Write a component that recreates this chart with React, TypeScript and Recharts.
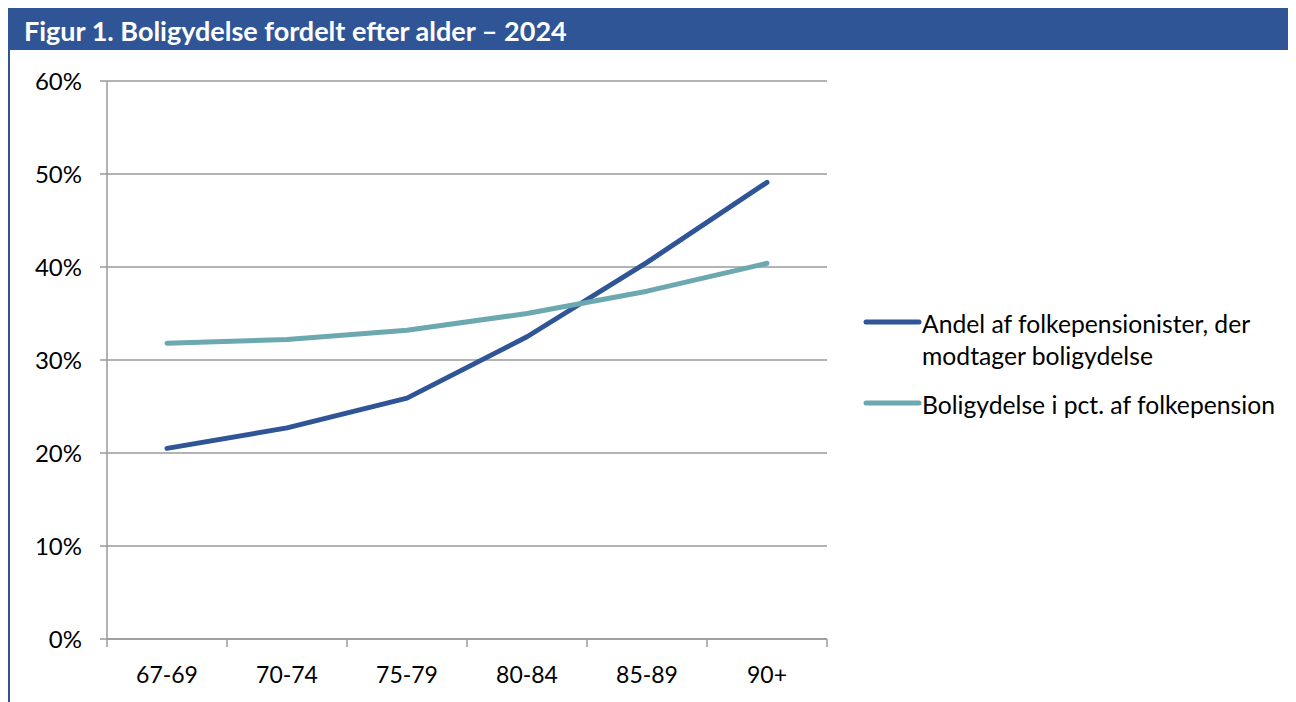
import React from 'react';
import { LineChart, Line, XAxis, YAxis, CartesianGrid } from 'recharts';

const categories = ['67-69', '70-74', '75-79', '80-84', '85-89', '90+'];
const andel = [20.5, 22.7, 25.9, 32.5, 40.5, 49.1];
const boligydelse = [31.8, 32.2, 33.2, 35.0, 37.4, 40.4];
const yTicks = [0, 10, 20, 30, 40, 50, 60];
const seriesNames = [
  ['Andel af folkepensionister, der', 'modtager boligydelse'],
  ['Boligydelse i pct. af folkepension'],
];
const title = 'Figur 1. Boligydelse fordelt efter alder – 2024';

const BLUE = '#2F5597';
const TEAL = '#6CA8AF';
const GRID = '#9a9a9a';
const FONT = 'Lato, "Noto Sans", sans-serif';

const chartData = categories.map((c, i) => ({
  cat: c,
  andel: andel[i],
  bolig: boligydelse[i],
}));

const BAND = 120; // plot width 720 / 6 categories

function XTick(props: any) {
  const { x, y, payload, index } = props;
  const last = index === categories.length - 1;
  return (
    <g>
      <line x1={x - BAND / 2} x2={x - BAND / 2} y1={y} y2={y + 8} stroke={GRID} strokeWidth={1.5} />
      {last && (
        <line x1={x + BAND / 2} x2={x + BAND / 2} y1={y} y2={y + 8} stroke={GRID} strokeWidth={1.5} />
      )}
      <text x={x} y={y + 35} textAnchor="middle" dominantBaseline="central" fill="#000" fontSize={23} fontFamily={FONT}>
        {payload.value}
      </text>
    </g>
  );
}

function ChartLegend() {
  const colors = [BLUE, TEAL];
  const tops = [0, 81];
  return (
    <svg
      width={420}
      height={120}
      style={{ position: 'absolute', left: 853, top: 272, overflow: 'visible' }}
    >
      {seriesNames.map((lines, i) => (
        <g key={i}>
          <line x1={3} x2={56} y1={tops[i]} y2={tops[i]} stroke={colors[i]} strokeWidth={5} strokeLinecap="round" />
          {lines.map((t, j) => (
            <text key={j} x={59} y={tops[i] + 1 + j * 32} dominantBaseline="central" fill="#000" fontSize={24.7} fontFamily={FONT}>
              {t}
            </text>
          ))}
        </g>
      ))}
    </svg>
  );
}

export default function App() {
  return (
    <div style={{ width: 1288, fontFamily: FONT }}>
      <div
        style={{
          background: BLUE,
          height: 42,
          color: '#fff',
          fontWeight: 700,
          fontSize: 27,
          lineHeight: '42px',
          paddingLeft: 16,
          paddingTop: 2,
          boxSizing: 'border-box',
          whiteSpace: 'nowrap',
        }}
      >
        {title}
      </div>
      <div
        style={{
          position: 'relative',
          borderLeft: `2px solid ${BLUE}`,
          borderRight: `2px solid ${BLUE}`,
          width: 1284,
          height: 652,
        }}
      >
        <LineChart
          width={1284}
          height={652}
          data={chartData}
          margin={{ top: 31, right: 467, bottom: 0, left: 0 }}
        >
          <CartesianGrid vertical={false} stroke={GRID} strokeWidth={1.5} />
          <XAxis
            dataKey="cat"
            height={63}
            padding={{ left: BAND / 2, right: BAND / 2 }}
            axisLine={{ stroke: GRID, strokeWidth: 1.5 }}
            tickLine={false}
            tickSize={0}
            tickMargin={0}
            tick={<XTick />}
            interval={0}
          />
          <YAxis
            width={97}
            domain={[0, 60]}
            ticks={yTicks}
            tickFormatter={(v: number) => `${v}%`}
            axisLine={{ stroke: GRID, strokeWidth: 1.5 }}
            tickLine={{ stroke: GRID, strokeWidth: 1.5 }}
            tickSize={7}
            tickMargin={18}
            tick={{ fill: '#000', fontSize: 24, fontFamily: FONT }}
          />
          <Line
            dataKey="andel"
            name={seriesNames[0].join(' ')}
            type="linear"
            stroke={BLUE}
            strokeWidth={5}
            strokeLinecap="round"
            strokeLinejoin="round"
            dot={false}
            isAnimationActive={false}
          />
          <Line
            dataKey="bolig"
            name={seriesNames[1].join(' ')}
            type="linear"
            stroke={TEAL}
            strokeWidth={5}
            strokeLinecap="round"
            strokeLinejoin="round"
            dot={false}
            isAnimationActive={false}
          />
        </LineChart>
        <ChartLegend />
      </div>
    </div>
  );
}
